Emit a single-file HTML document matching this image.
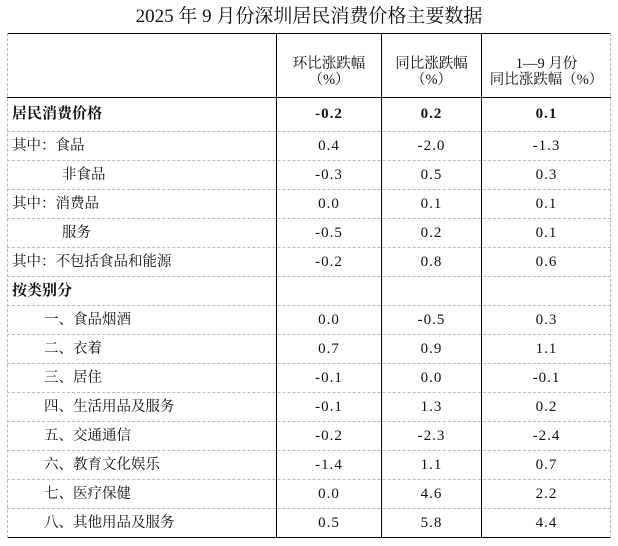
<!DOCTYPE html>
<html><head><meta charset="utf-8"><style>
body{margin:0;width:618px;height:546px;background:#fff;position:relative;overflow:hidden;font-family:"Liberation Serif","Noto Serif CJK SC",serif;color:#111}
.t{position:absolute;left:0;width:618px;top:5px;text-align:center;font-size:19px;line-height:24px}
.h{position:absolute;left:7px;width:604px;height:0}
.v{position:absolute;top:33px;height:505px;width:0}
.c{position:absolute;font-size:14.5px;white-space:nowrap}
.n{text-align:center;font-size:15px;letter-spacing:1px}
.b{font-weight:bold}
</style></head><body>
<div class="t">2025 年 9 月份深圳居民消费价格主要数据</div>
<div class="h" style="top:33px;border-top:1.5px solid #000"></div>
<div class="h" style="top:97px;border-top:1.5px solid #000"></div>
<div class="h" style="top:537px;border-top:1.5px solid #000"></div>
<div class="v" style="left:7px;border-left:1px dashed #bbb"></div>
<div class="v" style="left:610px;border-left:1px dashed #bbb"></div>
<div class="v" style="left:276px;border-left:1.5px solid #000"></div>
<div class="v" style="left:381px;border-left:1.5px solid #000"></div>
<div class="v" style="left:481px;border-left:1.5px solid #000"></div>
<div class="c" style="text-align:center;left:277px;width:104px;top:56px;line-height:16px">环比涨跌幅<br>（%）</div>
<div class="c" style="text-align:center;left:382px;width:99px;top:56px;line-height:16px">同比涨跌幅<br>（%）</div>
<div class="c" style="text-align:center;left:482px;width:129px;top:56px;line-height:16px">1—9 月份<br>同比涨跌幅（%）</div>
<div id="rows"></div>
<script>
var d=[["居民消费价格","-0.2","0.2","0.1",12,1],["其中：食品","0.4","-2.0","-1.3",12],["非食品","-0.3","0.5","0.3",62],["其中：消费品","0.0","0.1","0.1",12],["服务","-0.5","0.2","0.1",62],["其中：不包括食品和能源","-0.2","0.8","0.6",12],["按类别分","","","",12,1],["一、食品烟酒","0.0","-0.5","0.3",44],["二、衣着","0.7","0.9","1.1",44],["三、居住","-0.1","0.0","-0.1",44],["四、生活用品及服务","-0.1","1.3","0.2",44],["五、交通通信","-0.2","-2.3","-2.4",44],["六、教育文化娱乐","-1.4","1.1","0.7",44],["七、医疗保健","0.0","4.6","2.2",44],["八、其他用品及服务","0.5","5.8","4.4",44]];
var h="",y=97;
d.forEach(function(r,i){var hh=i==0?34:29;var ty=y+(hh-20)/2;var b=r[5]?" b":"";
h+='<div class="c'+b+'" style="left:'+r[4]+'px;top:'+ty+'px;line-height:20px;font-size:'+(r[5]?15:14.5)+'px">'+r[0]+'</div>';
var cols=[[277,104],[382,99],[482,129]];
for(var k=0;k<3;k++)h+='<div class="c n'+b+'" style="left:'+cols[k][0]+'px;width:'+cols[k][1]+'px;top:'+ty+'px;line-height:20px">'+r[k+1]+'</div>';
y+=hh;if(i<14)h+='<div class="h" style="top:'+y+'px;border-top:1px dashed #bbb"></div>';});
document.getElementById("rows").innerHTML=h;
</script>
</body></html>
